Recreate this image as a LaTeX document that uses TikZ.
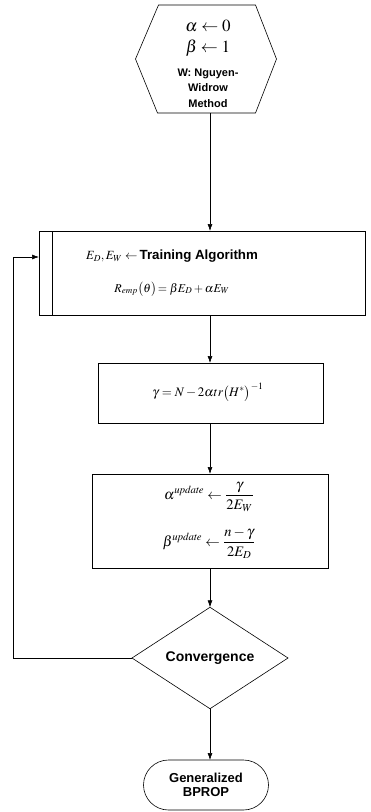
\documentclass[tikz,border=0pt]{standalone}
\usepackage{mathptmx}
\usepackage[no-math]{fontspec}
\newfontfamily\hv{Liberation Sans}
\usetikzlibrary{arrows.meta,shapes.geometric,shapes.misc}
\begin{document}
\begin{tikzpicture}[x=1pt,y=-1pt,
  line width=0.6pt,
  every node/.style={inner sep=0pt, outer sep=0pt},
  arr/.style={-{Latex[length=7pt,width=5pt]}},
  boxs/.style={draw, rectangle},
  lbl/.style={font=\hv\bfseries\fontsize{13}{14}\selectfont, align=center},
]
\useasboundingbox (0,0) rectangle (371,812);
\coordinate (cx) at (210,0);
% hexagon
\node (hex) [minimum width=141pt, minimum height=108pt] at (206,59) {};
\draw ([xshift=23pt]hex.north west) -- ([xshift=-21pt]hex.north east) -- (hex.east)
  -- ([xshift=-21pt]hex.south east) -- ([xshift=22pt]hex.south west) -- (hex.west) -- cycle;
\node (a0) at (208,26) {\fontsize{17}{19}\selectfont $\alpha \leftarrow 0$};
\node (b1) at (208,48) {\fontsize{17}{19}\selectfont $\beta \leftarrow 1$};
\node (wtxt) [lbl, font=\hv\bfseries\fontsize{11}{15.5}\selectfont] at (208,88) {W: Nguyen-\\Widrow\\Method};
% big box
\node (big) [boxs, minimum width=326pt, minimum height=84pt] at (202,273) {};
\draw ([xshift=13pt]big.north west) -- ([xshift=13pt]big.south west);
\node (l1) at (172,256) {\fontsize{12.5}{15}\selectfont $E_D, E_W \leftarrow$\,{\hv\bfseries\fontsize{13.3}{15}\selectfont Training Algorithm}};
\node (l2) at (172,289) {\fontsize{12}{15}\selectfont $R_{emp}\bigl(\theta\bigr)\!= \beta E_D + \alpha E_W$};
% gamma box
\node (gam) [boxs, minimum width=225pt, minimum height=60pt] at (210.5,393) {};
\node (gt) at (208,392) {\fontsize{13}{15}\selectfont $\gamma = N - 2\alpha tr\bigl(H^{*}\bigr)^{-1}$};
% update box
\node (upd) [boxs, minimum width=236pt, minimum height=94pt] at (210,521) {};
\node (u1) at (209,497) {\fontsize{14.5}{16}\selectfont $\displaystyle\alpha^{\mathit{update}} \leftarrow \frac{\gamma}{2E_W}$};
\node (u2) at (209,543) {\fontsize{14.5}{16}\selectfont $\displaystyle\beta^{\mathit{update}} \leftarrow \frac{n-\gamma}{2E_D}$};
% diamond
\node (dia) [draw, diamond, minimum width=156pt, minimum height=69pt, lbl, font=\hv\bfseries\fontsize{14}{15}\selectfont] at (210,658) {Convergence};
% terminal
\node (term) [draw, rounded rectangle, minimum width=125pt, minimum height=50pt, lbl] at (206,785) {Generalized\\BPROP};
% connectors
\draw[arr] (hex.south -| cx) -- (big.north -| cx);
\draw[arr] (big.south -| cx) -- (gam.north -| cx);
\draw[arr] (gam.south -| cx) -- (upd.north -| cx);
\draw[arr] (upd.south -| cx) -- (dia.north);
\draw[arr] (dia.south) -- (term.north -| dia.south);
\coordinate (loopc) at (13,257);
\draw[arr] (dia.west) -| (loopc) -- (loopc -| big.west);
\end{tikzpicture}
\end{document}
